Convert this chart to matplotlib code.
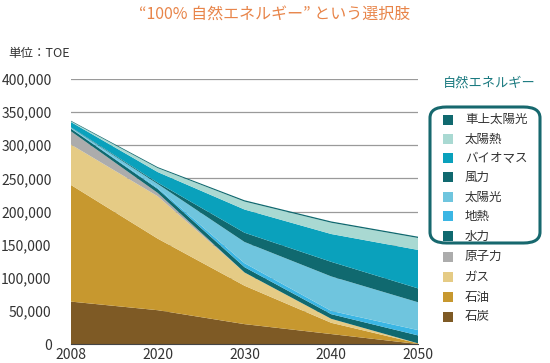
import numpy as np
import matplotlib.pyplot as plt
from matplotlib.patches import FancyBboxPatch, Rectangle

plt.rcParams['font.family'] = ['Noto Sans CJK JP', 'DejaVu Sans']

# データ (単位: TOE)
years = ['2008', '2020', '2030', '2040', '2050']
sekitan = [64000, 51000, 30000, 15000, 0]       # 石炭
sekiyu = [176000, 108000, 58000, 17000, 1000]   # 石油
gas = [61000, 64000, 20000, 6000, 0]            # ガス
genshiryoku = [20000, 5000, 0, 0, 0]            # 原子力
suiryoku = [4000, 6000, 8000, 7000, 12000]      # 水力
chinetsu = [500, 1500, 6000, 5000, 8000]        # 地熱
taiyoko = [1000, 6000, 32000, 52000, 42000]     # 太陽光
furyoku = [500, 2000, 14000, 22000, 21000]      # 風力
biomass = [8000, 16000, 35000, 42000, 58000]    # バイオマス
taiyonetsu = [1000, 6000, 12000, 17000, 18000]  # 太陽熱
shajo = [1000, 1500, 2000, 2000, 2000]          # 車上太陽光

labels = ['石炭', '石油', 'ガス', '原子力', '水力', '地熱', '太陽光',
          '風力', 'バイオマス', '太陽熱', '車上太陽光']
colors = ['#7e5a25', '#c7982f', '#e5cb85', '#acacac', '#10696f', '#3bb6e4',
          '#6fc5de', '#10696f', '#0aa1bc', '#a9d9d2', '#10696f']

fig = plt.figure(figsize=(5.5, 3.63), dpi=100)
ax = fig.add_axes([71/550, 19/363, 347/550, 265/363])

x = np.arange(len(years))
ax.stackplot(x, sekitan, sekiyu, gas, genshiryoku, suiryoku, chinetsu, taiyoko,
             furyoku, biomass, taiyonetsu, shajo, colors=colors, linewidth=0)

ax.set_xlim(0, 4)
ax.set_ylim(0, 400000)
ax.set_yticks(np.arange(0, 400001, 50000))
ax.set_yticklabels(['{:,}'.format(v) for v in range(0, 400001, 50000)], fontsize=10, color='#333333')
ax.set_xticks(x)
ax.set_xticklabels(years, fontsize=10, color='#333333')
ax.tick_params(length=0, pad=3)
ax.tick_params(axis='y', pad=14)
ax.yaxis.grid(True, color='#9a9a9a', linewidth=0.9)
ax.set_axisbelow(True)
for s in ['top', 'right', 'left']:
    ax.spines[s].set_visible(False)
ax.spines['bottom'].set_color('#444444')

fig.text(0.5, 1 - 14/363, '“100% 自然エネルギー” という選択肢', ha='center', va='center',
         fontsize=11.5, color='#e8854a')
fig.text(8/550, 1 - 54/363, '単位：TOE', ha='left', va='center', fontsize=9, color='#333333')

# 凡例
fig.text(489/550, 1 - 83/363, '自然エネルギー', ha='center', va='center',
         fontsize=9.5, color='#1b7a80')
box = FancyBboxPatch((430/550, 1 - 243/363), 110/550, 136/363,
                     boxstyle='round,pad=0,rounding_size=0.03',
                     transform=fig.transFigure, fill=False,
                     edgecolor='#17686e', linewidth=2.2)
fig.add_artist(box)
rows = [119.5, 138.8, 158, 177.3, 197, 216.3, 236, 256.7, 277, 297, 316.7]
for i, y in enumerate(rows):
    k = len(labels) - 1 - i
    fig.add_artist(Rectangle((443/550, 1 - (y + 5)/363), 10/550, 10/363,
                             transform=fig.transFigure, color=colors[k], linewidth=0))
    fig.text(465/550, 1 - y/363, labels[k], ha='left', va='center', fontsize=9, color='#333333')

fig.savefig('out.png', dpi=100)
